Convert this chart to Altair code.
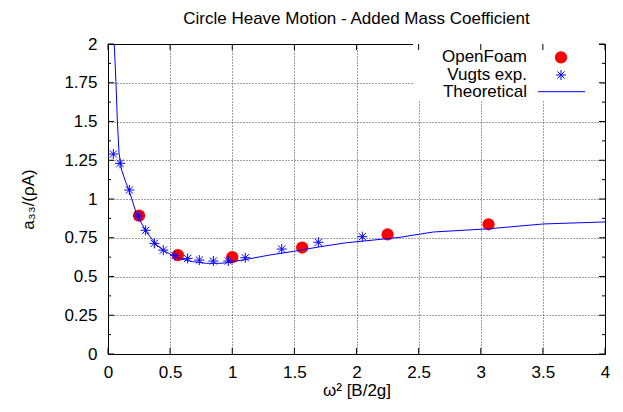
import altair as alt
import pandas as pd

# ---------------- data ----------------
series_names = ["OpenFoam", "Vugts exp.", "Theoretical"]

openfoam_x = [0.25, 0.5625, 1.0, 1.5625, 2.25, 3.0625]
openfoam_y = [0.893, 0.638, 0.625, 0.687, 0.771, 0.837]

vugts_x = [0.043, 0.097, 0.172, 0.244, 0.303, 0.373, 0.445, 0.539, 0.641, 0.735,
           0.848, 0.968, 1.105, 1.398, 1.693, 2.047]
vugts_y = [1.290, 1.230, 1.058, 0.890, 0.798, 0.714, 0.670, 0.634, 0.617, 0.606,
           0.600, 0.600, 0.621, 0.677, 0.721, 0.757]

theory_x = [0.05, 0.064, 0.075, 0.089, 0.11, 0.14, 0.17, 0.231, 0.311, 0.392, 0.445,
            0.499, 0.579, 0.68, 0.794, 0.9, 0.955, 1.116, 1.304, 1.491, 1.706,
            1.921, 2.135, 2.35, 2.618, 3.069, 3.503, 4.0]
theory_y = [2.0, 1.757, 1.51, 1.295, 1.187, 1.115, 1.055, 0.9, 0.785, 0.703, 0.668,
            0.645, 0.615, 0.596, 0.585, 0.585, 0.589, 0.611, 0.639, 0.662, 0.692,
            0.718, 0.735, 0.753, 0.787, 0.808, 0.839, 0.852]

x_ticks = [0, 0.5, 1, 1.5, 2, 2.5, 3, 3.5, 4]
y_ticks = [0, 0.25, 0.5, 0.75, 1, 1.25, 1.5, 1.75, 2]
y_minor = [0.125, 0.375, 0.625, 0.875, 1.125, 1.375, 1.625, 1.875]

# ---------------- tables ----------------
df_of = pd.DataFrame({"x": openfoam_x, "y": openfoam_y})
df_vg = pd.DataFrame({"x": vugts_x, "y": vugts_y})
df_th = pd.DataFrame({"x": theory_x, "y": theory_y})
df_xt = pd.DataFrame({"x": x_ticks})
df_yt = pd.DataFrame({"y": y_ticks})
df_ym = pd.DataFrame({"y": y_minor})

W, H = 497, 310
FONT = "Liberation Sans"
FS = 17
RED, BLUE = "#ff0000", "#0000ff"
STAR = "M-1,0L1,0M0,-1L0,1M-0.72,-0.72L0.72,0.72M-0.72,0.72L0.72,-0.72"

xs = alt.Scale(domain=[0, 4], nice=False, zero=False)
ys = alt.Scale(domain=[0, 2], nice=False, zero=False)

common_axis = dict(grid=True, ticks=False, tickSize=0, domain=False, labelFontSize=FS,
                   titleFontSize=FS, titleFontWeight="normal", labelFont=FONT,
                   titleFont=FONT, labelColor="black", titleColor="black",
                   gridColor="black", gridDash=[1, 2], gridWidth=1, gridOpacity=0.75,
                   labelFlush=False, format=".3~g", titleBaseline="alphabetic")
x_axis = alt.Axis(values=x_ticks, labelBaseline="alphabetic", labelPadding=23,
                  titleY=41, **common_axis)
y_axis = alt.Axis(values=y_ticks, labelPadding=11, titleX=-75, **common_axis)

X_TITLE = "ω² [B/2g]"
Y_TITLE = "a₃₃/(ρA)"

X = alt.X("x:Q", scale=xs, axis=x_axis, title=X_TITLE)
Y = alt.Y("y:Q", scale=ys, axis=y_axis, title=Y_TITLE)

of_layer = alt.Chart(df_of).mark_point(filled=True, shape="circle", size=150, color=RED,
                                        opacity=1).encode(x=X, y=Y)
vg_layer = alt.Chart(df_vg).mark_point(filled=False, shape=STAR, size=100, color=BLUE,
                                        strokeWidth=1, opacity=1).encode(x=X, y=Y)
th_layer = alt.Chart(df_th).mark_line(strokeWidth=1, color=BLUE, clip=True).encode(x=X, y=Y)

# inward tick marks (gnuplot style) on all four sides
def rule(df):
    return alt.Chart(df).mark_rule(color="black", strokeWidth=1)

tick_b = rule(df_xt).encode(x=X, y=alt.value(H - 6), y2=alt.value(H))
tick_t = rule(df_xt).encode(x=X, y=alt.value(0), y2=alt.value(6))
tick_l = rule(df_yt).encode(y=Y, x=alt.value(0), x2=alt.value(6))
tick_r = rule(df_yt).encode(y=Y, x=alt.value(W - 6), x2=alt.value(W))
mtick_l = rule(df_ym).encode(y=Y, x=alt.value(0), x2=alt.value(3))
mtick_r = rule(df_ym).encode(y=Y, x=alt.value(W - 3), x2=alt.value(W))

# key (gnuplot-style: label on the left, sample on the right, white box)
key_box = alt.Chart(pd.DataFrame({"k": [0]})).mark_rect(fill="white", stroke=None).encode(
    x=alt.value(305), x2=alt.value(491), y=alt.value(0), y2=alt.value(56))
row_y = [13.3, 31.0, 47.7]
key_text = [
    alt.Chart(pd.DataFrame({"label": [name]})).mark_text(
        align="right", baseline="middle", font=FONT, fontSize=FS, color="black"
    ).encode(text="label:N", x=alt.value(419), y=alt.value(ry))
    for name, ry in zip(series_names, row_y)
]
one = pd.DataFrame({"k": [0]})
key_of = alt.Chart(one).mark_point(filled=True, shape="circle", size=150, color=RED,
                                   opacity=1).encode(x=alt.value(453), y=alt.value(row_y[0]))
key_vg = alt.Chart(one).mark_point(filled=False, shape=STAR, size=100, color=BLUE,
                                   strokeWidth=1, opacity=1).encode(x=alt.value(453), y=alt.value(row_y[1]))
key_th = alt.Chart(one).mark_rule(color=BLUE, strokeWidth=1).encode(
    x=alt.value(430), x2=alt.value(477), y=alt.value(row_y[2]))

chart = alt.layer(
    of_layer, vg_layer, th_layer, key_box,
    tick_b, tick_t, tick_l, tick_r, mtick_l, mtick_r,
    *key_text, key_of, key_vg, key_th,
).properties(
    width=W, height=H,
    title=alt.TitleParams("Circle Heave Motion - Added Mass Coefficient", fontSize=FS,
                          fontWeight="normal", font=FONT, color="black", offset=7,
                          anchor="middle"),
    autosize=alt.AutoSizeParams(type="none"),
    padding={"left": 108, "top": 44, "right": 18, "bottom": 58},
).configure(font=FONT, background="white").configure_view(
    stroke="black", strokeWidth=1
)

chart.save("out.html", embed_options={"renderer": "svg", "actions": False})
